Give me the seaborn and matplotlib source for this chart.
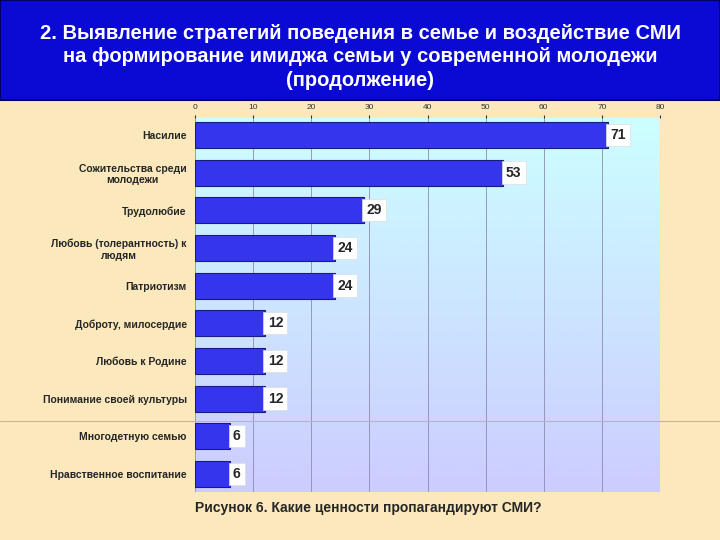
import numpy as np
import pandas as pd
import matplotlib.pyplot as plt
import seaborn as sns
from matplotlib.patches import Rectangle
from matplotlib.colors import LinearSegmentedColormap

# %% data

categories = ['Насилие', 'Сожительства среди\nмолодежи', 'Трудолюбие',
              'Любовь (толерантность) к\nлюдям', 'Патриотизм',
              'Доброту, милосердие', 'Любовь к Родине',
              'Понимание своей культуры', 'Многодетную семью',
              'Нравственное воспитание']
values = [71, 53, 29, 24, 24, 12, 12, 12, 6, 6]
ticks = [0, 10, 20, 30, 40, 50, 60, 70, 80]

title = ('2. Выявление стратегий поведения в семье и воздействие СМИ\n'
         'на формирование имиджа семьи у современной молодежи\n'
         '(продолжение)')
caption = 'Рисунок 6. Какие ценности пропагандируют СМИ?'

df = pd.DataFrame({'cat': categories, 'val': values})

# %% plot

sns.set_style('white')
plt.rcParams['font.family'] = ['Liberation Sans', 'DejaVu Sans']

fig = plt.figure(figsize=(7.2, 5.4), dpi=100)
fig.patch.set_facecolor('#fbe9bd')

# faint slide line
fig.add_artist(plt.Line2D([0, 1], [1 - 421 / 540] * 2, color='#c9b58a', lw=0.8))

# title banner
fig.add_artist(Rectangle((0, 1 - 100 / 540), 1, 100 / 540, transform=fig.transFigure,
                         facecolor='#0a0ad4', edgecolor='#000060', lw=1.5))
fig.text(0.5, 1 - 57 / 540, title, ha='center', va='center', color='white',
         fontsize=14.5, fontweight='bold', linespacing=1.3,
         family=['Liberation Sans Narrow', 'Liberation Sans', 'DejaVu Sans'])

ax = fig.add_axes([195 / 720, 1 - 492 / 540, 465 / 720, 374 / 540])
y_top, y_bot = -0.45, 9.48

# gradient background cyan -> lavender
grad = np.linspace(0, 1, 256).reshape(-1, 1)
ax.imshow(grad, extent=[0, 80, y_bot, y_top], aspect='auto', zorder=0,
          cmap=LinearSegmentedColormap.from_list('bg', ['#ccffff', '#ccccff']))

sns.barplot(data=df, x='val', y='cat', orient='h', color='#3535ee',
            saturation=1, width=0.69, edgecolor='#1a1a80', linewidth=0.8,
            ax=ax, zorder=3)

ax.set_xlim(0, 80)
ax.set_ylim(y_bot, y_top)
ax.set_xticks(ticks)
ax.xaxis.tick_top()
ax.tick_params(axis='x', labelsize=6, length=2, pad=3, colors='#333333')
ax.tick_params(axis='y', labelsize=7.5, length=0, pad=6)
for lab in ax.get_yticklabels():
    lab.set_fontweight('bold')
    lab.set_multialignment('center')
ax.set_xlabel('')
ax.set_ylabel('')
ax.grid(axis='x', color='#8c8cb0', lw=0.6, zorder=1)
ax.set_axisbelow(True)
for s in ax.spines.values():
    s.set_visible(False)

for i, v in enumerate(values):
    ax.text(v + 0.5, i, str(v), va='center', ha='left', fontsize=10,
            fontweight='bold', zorder=4,
            bbox=dict(facecolor='white', edgecolor='#dddddd', pad=3, lw=0.5))

fig.text(195 / 720, 1 - 508 / 540, caption, ha='left', va='center',
         fontsize=10, fontweight='bold')

fig.savefig('out.png', dpi=100, facecolor=fig.get_facecolor())
